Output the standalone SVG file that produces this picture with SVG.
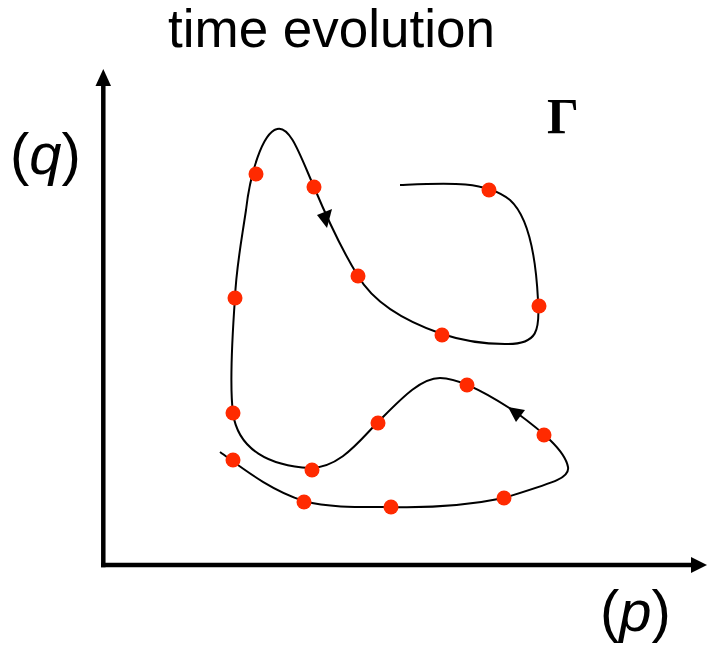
<svg xmlns="http://www.w3.org/2000/svg" width="708" height="648" viewBox="0 0 708 648">
<style>
.axis{stroke:#000;stroke-width:4.5;fill:none}
.head{fill:#000}
.traj{stroke:#000;stroke-width:2;fill:none}
.dot{fill:#ff2a00}
.lbl{font-family:"Liberation Sans",Arial,sans-serif;fill:#000}
</style>
<rect width="708" height="648" fill="#fff"/>
<g id="axes">
<line class="axis" x1="103.3" y1="567.3" x2="103.3" y2="84"/>
<polygon class="head" points="103.3,69 95.5,86 111,86"/>
<line class="axis" x1="101" y1="565" x2="693" y2="565"/>
<polygon class="head" points="707,565 691,557 691,573"/>
</g>
<g id="trajectory">
<path class="traj" d="M400,185 C445,183 485,180 510,200 C530,218 536,260 538,300 C540,330 538,345 505,344 C480,344 460,340 442,334 C410,323 375,305 358,276 C345,255 330,225 314,187 C300,155 290,125 277,129 C262,133 250,175 246,210 C240,250 236,270 235,298 C232,340 230,390 233,413 C238,450 270,466 310,468 C340,468 360,440 378,422 C400,400 420,378 440,378 C460,378 490,395 517,413 C540,430 565,450 568,467 C570,478 555,482 504,498 C470,505 430,508 391,507 C360,507 330,508 304,501 C270,490 245,470 220,452"/>
<polygon class="head" points="327,228 317,215 332,209"/>
<polygon class="head" points="508,407 516,422 525,410"/>
</g>
<g id="points">
<circle class="dot" cx="256" cy="174" r="7.5"/>
<circle class="dot" cx="314" cy="187" r="7.5"/>
<circle class="dot" cx="358" cy="276" r="7.5"/>
<circle class="dot" cx="442" cy="335" r="7.5"/>
<circle class="dot" cx="539" cy="306" r="7.5"/>
<circle class="dot" cx="489" cy="190" r="7.5"/>
<circle class="dot" cx="235" cy="298" r="7.5"/>
<circle class="dot" cx="233" cy="413" r="7.5"/>
<circle class="dot" cx="312" cy="470" r="7.5"/>
<circle class="dot" cx="378" cy="423" r="7.5"/>
<circle class="dot" cx="467" cy="385" r="7.5"/>
<circle class="dot" cx="544" cy="435" r="7.5"/>
<circle class="dot" cx="504" cy="498" r="7.5"/>
<circle class="dot" cx="391" cy="507" r="7.5"/>
<circle class="dot" cx="304" cy="502" r="7.5"/>
<circle class="dot" cx="233" cy="460" r="7.5"/>
</g>
<g id="labels">
<text class="lbl" x="168" y="47" font-size="53">time evolution</text>
<text class="lbl" x="10" y="174" font-size="58">(<tspan font-style="italic">q</tspan>)</text>
<text class="lbl" x="600" y="631" font-size="58">(<tspan font-style="italic">p</tspan>)</text>
<text x="547" y="133" font-size="50" font-weight="bold" font-family="'Liberation Serif','Times New Roman',serif" fill="#000">Γ</text>
</g>
</svg>
